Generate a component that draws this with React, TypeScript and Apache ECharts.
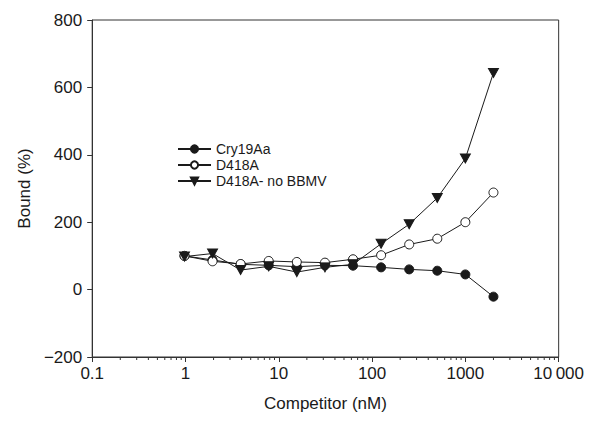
import React, { useEffect, useRef } from "react";
import * as echarts from "echarts";

const concentrations = [0.976, 1.95, 3.9, 7.8, 15.6, 31.25, 62.5, 125, 250, 500, 1000, 2000];
const cry19Aa = [100, 88, 75, 72, 68, 72, 71, 66, 60, 56, 45, -21];
const d418a = [100, 84, 76, 85, 82, 80, 90, 102, 134, 151, 200, 288];
const d418aNoBBMV = [98, 107, 58, 69, 52, 66, 75, 136, 194, 272, 389, 643];
const seriesNames = ["Cry19Aa", "D418A", "D418A- no BBMV"];
const xDecades = [0.1, 1, 10, 100, 1000, 10000];
const yTicks = [-200, 0, 200, 400, 600, 800];

const INK = "#1a1a1a";
const FONT = "Liberation Sans, Arial, Helvetica, sans-serif";

function minorTicks(): number[] {
  const out: number[] = [];
  for (let i = 0; i < xDecades.length - 1; i++) {
    for (let m = 2; m <= 9; m++) out.push(xDecades[i] * m);
  }
  return out;
}

function fmtX(v: number): string {
  const r = Math.round(v * 1000) / 1000;
  if (r >= 10000) return String(r).replace(/(\d)(?=(\d{3})+$)/g, "$1\u2009");
  return String(r);
}

export default function App() {
  const ref = useRef<HTMLDivElement>(null);
  useEffect(() => {
    if (!ref.current) return;
    const chart = echarts.init(ref.current, undefined, { renderer: "svg" });
    const mk = (arr: number[]) => concentrations.map((c, i) => [c, arr[i]]);
    const common = {
      type: "line",
      lineStyle: { color: INK, width: 1 },
      itemStyle: { color: INK, borderColor: INK, borderWidth: 1 },
      z: 3,
    };
    chart.setOption({
      animation: false,
      textStyle: { fontFamily: FONT },
      grid: {
        left: 80,
        right: 18,
        top: 12,
        bottom: 52,
        show: true,
        borderColor: "#333",
        borderWidth: 1,
      },
      legend: {
        orient: "vertical",
        left: 164,
        top: 129,
        itemGap: 2,
        itemWidth: 33,
        itemHeight: 9,
        textStyle: { fontSize: 14, color: INK, fontFamily: FONT },
        data: seriesNames,
      },
      xAxis: {
        type: "log",
        logBase: 10,
        min: 0.1,
        max: 10000,
        name: "Competitor (nM)",
        nameLocation: "middle",
        nameGap: 38,
        nameTextStyle: { fontSize: 17, color: INK, fontFamily: FONT },
        axisLine: { onZero: false, lineStyle: { color: "#333", width: 1 } },
        axisTick: { show: true, length: 5, lineStyle: { color: "#333" } },
        axisLabel: { fontSize: 17, color: INK, fontFamily: FONT, margin: 8, formatter: fmtX },
        splitLine: { show: false },
      },
      yAxis: {
        type: "value",
        min: yTicks[0],
        max: yTicks[yTicks.length - 1],
        interval: 200,
        name: "Bound (%)",
        nameLocation: "middle",
        nameGap: 57,
        nameTextStyle: { fontSize: 17, color: INK, fontFamily: FONT },
        axisLine: { show: true, onZero: false, lineStyle: { color: "#333", width: 1 } },
        axisTick: { show: true, length: 5, lineStyle: { color: "#333" } },
        axisLabel: {
          fontSize: 17,
          color: INK,
          fontFamily: FONT,
          margin: 10,
          formatter: (v: number) => String(v).replace("-", "\u2212"),
        },
        splitLine: { show: false },
      },
      series: [
        {
          ...common,
          name: seriesNames[0],
          data: mk(cry19Aa),
          symbol: "circle",
          symbolSize: 9,
        },
        {
          ...common,
          name: seriesNames[1],
          data: mk(d418a),
          symbol: "circle",
          symbolSize: 9,
          itemStyle: { color: "#fff", borderColor: INK, borderWidth: 1 },
        },
        {
          ...common,
          name: seriesNames[2],
          data: mk(d418aNoBBMV),
          symbol: "triangle",
          symbolRotate: 180,
          symbolSize: [10, 9],
        },
        {
          type: "custom",
          name: "minor",
          clip: false,
          silent: true,
          z: 1,
          data: minorTicks().map((v) => [v, yTicks[0]]),
          renderItem: (params: any, api: any) => {
            const p = api.coord([api.value(0), api.value(1)]);
            return {
              type: "line",
              shape: { x1: p[0], y1: p[1], x2: p[0], y2: p[1] + 3 },
              style: { stroke: "#333", lineWidth: 1 },
            };
          },
        },
      ],
    });
    return () => chart.dispose();
  }, []);
  return <div ref={ref} style={{ width: 579, height: 409 }} />;
}
